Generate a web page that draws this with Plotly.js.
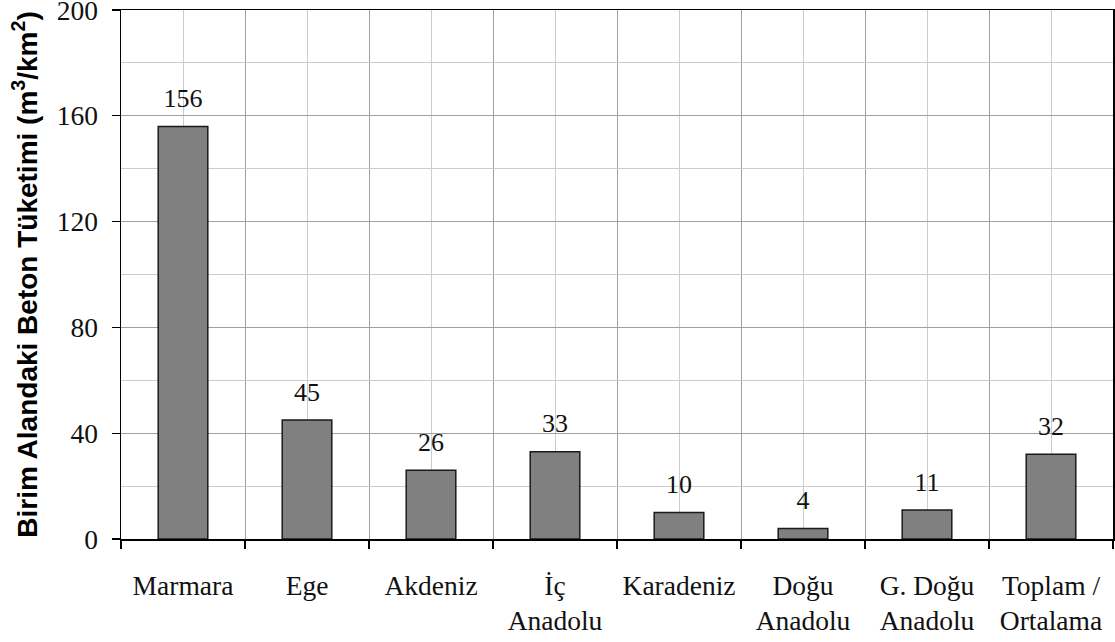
<!DOCTYPE html>
<html>
<head>
<meta charset="utf-8">
<script src="https://cdn.plot.ly/plotly-3.0.1.min.js"></script>
<style>html,body{margin:0;padding:0;background:#fff;}#chart{width:1115px;height:642px;}</style>
</head>
<body>
<div id="chart"></div>
<script>
const categories = ["Marmara", "Ege", "Akdeniz", "İç<br>Anadolu", "Karadeniz", "Doğu<br>Anadolu", "G. Doğu<br>Anadolu", "Toplam /<br>Ortalama"];
const values = [156, 45, 26, 33, 10, 4, 11, 32];
const yTitle = "Birim Alandaki Beton Tüketimi (m<sup>3</sup>/km<sup>2</sup>)";

const positions = categories.map((_, i) => i);
const boundaries = categories.map((_, i) => i - 0.5).concat([categories.length - 0.5]);

const serif = "Liberation Serif";

const bars = {
  type: "bar",
  x: positions,
  y: values,
  width: 0.4,
  marker: {color: "#808080", line: {color: "#1a1a1a", width: 1.5}},
  hoverinfo: "none"
};

const labels = {
  type: "scatter",
  mode: "markers+text",
  x: positions,
  y: values,
  text: values.map(String),
  textposition: "top center",
  textfont: {family: serif, size: 26, color: "#111"},
  marker: {size: 19, color: "rgba(0,0,0,0)"},
  cliponaxis: false,
  hoverinfo: "none"
};

const layout = {
  width: 1115, height: 642,
  margin: {l: 121, r: 2, t: 10, b: 103},
  paper_bgcolor: "#fff", plot_bgcolor: "#fff",
  font: {family: serif, color: "#111"},
  showlegend: false,
  xaxis: {
    range: [-0.5, categories.length - 0.5],
    tickmode: "array", tickvals: positions, ticktext: categories,
    ticks: "", showgrid: true, gridcolor: "#cccccc", gridwidth: 1,
    zeroline: false,
    showline: true, linecolor: "#000", linewidth: 1.5, mirror: true,
    tickfont: {family: serif, size: 27.5, color: "#111"},
    ticklabelstandoff: 21,
    ticklabeloverflow: "allow",
    minor: {tickmode: "array", tickvals: boundaries, ticks: "outside", ticklen: 8, tickcolor: "#000", tickwidth: 1.2, showgrid: true, gridcolor: "#a0a0a0", gridwidth: 1},
    fixedrange: true
  },
  yaxis: {
    range: [0, 200], tick0: 0, dtick: 40,
    ticks: "outside", ticklen: 8, tickcolor: "#000", tickwidth: 1.2,
    showgrid: true, gridcolor: "#a0a0a0", gridwidth: 1,
    minor: {dtick: 20, showgrid: true, gridcolor: "#cccccc", gridwidth: 1},
    zeroline: false,
    showline: true, linecolor: "#000", linewidth: 1.5, mirror: true,
    tickfont: {family: serif, size: 27.5, color: "#111"},
    ticklabelstandoff: 8,
    ticklabeloverflow: "allow",
    title: {text: yTitle, font: {family: "Liberation Sans", size: 28, color: "#000", weight: "bold"}, standoff: 11},
    fixedrange: true
  }
};

Plotly.newPlot("chart", [bars, labels], layout, {displayModeBar: false, staticPlot: true});
</script>
</body>
</html>
